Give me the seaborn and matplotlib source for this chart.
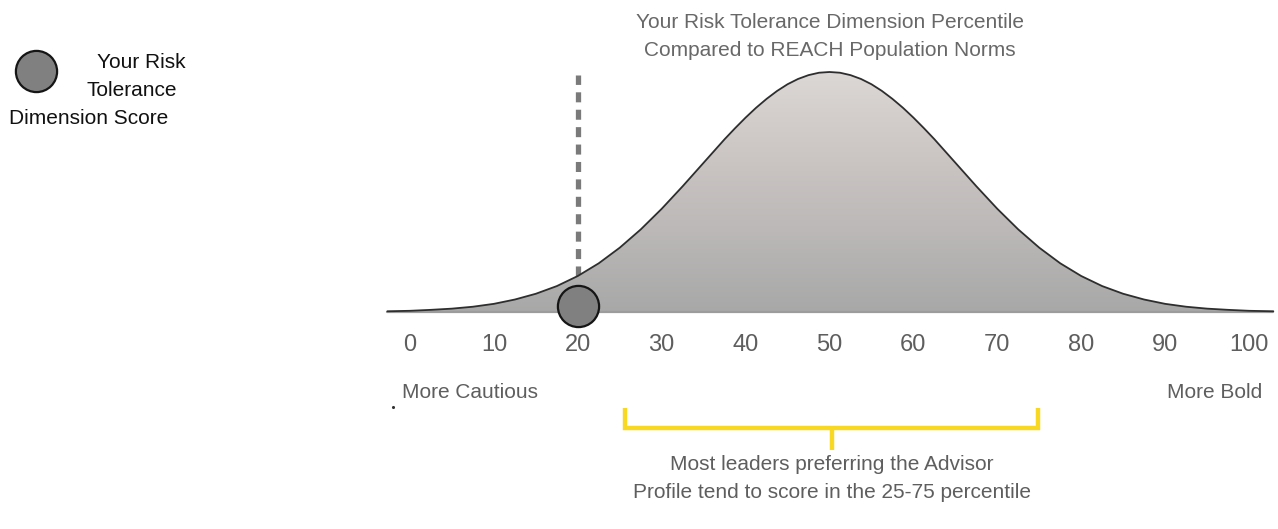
import numpy as np
import matplotlib
matplotlib.use("Agg")
import matplotlib.pyplot as plt
from matplotlib.colors import LinearSegmentedColormap
from matplotlib.patches import Polygon
import seaborn as sns

# ---------------------------------------------
# DATA
# ---------------------------------------------
# population curve: percentile -> relative height (peak = 1)
curve_x = [-2.7, 0, 2.5, 5, 7.5, 10, 12.5, 15, 17.5, 20, 22.5, 25, 27.5,
           30, 31.25, 32.5, 33.75, 35, 36.25, 37.5, 38.75, 40, 41.25, 42.5,
           43.75, 45, 46.25, 47.5, 48.75, 50, 51.25, 52.5, 53.75, 55, 56.25,
           57.5, 58.75, 60, 61.25, 62.5, 63.75, 65, 66.25, 67.5, 68.75, 70,
           72.5, 75, 77.5, 80, 82.5, 85, 87.5, 90, 92.5, 95, 97.5, 100, 102.9]
curve_h = [0.003, 0.005, 0.009, 0.014, 0.022, 0.034, 0.052, 0.076, 0.108,
           0.150, 0.203, 0.268, 0.344,
           0.430, 0.477, 0.524, 0.573, 0.622, 0.671, 0.720, 0.766, 0.810,
           0.851, 0.888, 0.921, 0.949, 0.971, 0.987, 0.997, 1.000, 0.997,
           0.987, 0.971, 0.949, 0.921, 0.888, 0.851, 0.810, 0.766, 0.720,
           0.671, 0.622, 0.573, 0.524, 0.477, 0.430,
           0.344, 0.268, 0.203, 0.150, 0.108, 0.076, 0.052, 0.034, 0.022,
           0.014, 0.009, 0.005, 0.003]

tick_values = [0, 10, 20, 30, 40, 50, 60, 70, 80, 90, 100]
your_score = 20
score_curve_h = 0.150
advisor_range = [25.6, 74.9]

title_lines = ["Your Risk Tolerance Dimension Percentile",
               "Compared to REACH Population Norms"]
left_label = "More Cautious"
right_label = "More Bold"
bracket_lines = ["Most leaders preferring the Advisor",
                 "Profile tend to score in the 25-75 percentile"]
legend_lines = ["Your Risk", "Tolerance", "Dimension Score"]

# ---------------------------------------------
# LAYOUT helpers (pixel of the 1278x529 canvas -> data)
# ---------------------------------------------
W, H = 1278, 529
X0_PX, PX_PER_UNIT = 410, 8.39     # where percentile 0 sits, px per percentile
BASE_PX, PEAK_PX = 312, 240        # baseline row, peak height in px


def dx(px):
    return (px - X0_PX) / PX_PER_UNIT


def dy(py):
    return (BASE_PX - py) / PEAK_PX


sns.set_theme(style="white")
plt.rcParams["font.family"] = ["Liberation Sans", "DejaVu Sans"]

fig = plt.figure(figsize=(W / 100, H / 100), dpi=100)
ax = fig.add_axes([0, 0, 1, 1])
ax.set_axis_off()

GREY_TXT = "#5e5e5e"
TITLE_TXT = "#686868"
YELLOW = "#f8d822"

# gradient fill under the curve
cmap = LinearSegmentedColormap.from_list(
    "bell", ["#a8a8a8", "#bbb8b7", "#ccc6c4", "#dcd8d6"])
grad = np.linspace(0, 1, 256).reshape(-1, 1)
im = ax.imshow(grad, cmap=cmap, origin="lower", aspect="auto",
               extent=[curve_x[0], curve_x[-1], 0, 1], zorder=1)
verts = np.column_stack([curve_x + curve_x[::-1],
                         curve_h + [0.0] * len(curve_x)])
clip = Polygon(verts, closed=True, facecolor="none", edgecolor="none")
ax.add_patch(clip)
im.set_clip_path(clip)

# baseline + curve outline
ax.plot([curve_x[0], curve_x[-1]], [0, 0], color="#9c9c9c", lw=1.6, zorder=2)
sns.lineplot(x=curve_x, y=curve_h, color="#2e2e2e", lw=1.3, ax=ax,
             zorder=3, sort=False)

# dashed marker line + score circle
ax.plot([your_score, your_score], [score_curve_h, dy(75)], color="#7a7a7a",
        lw=3.8, dashes=(1.9, 1.4), solid_capstyle="butt",
        dash_capstyle="butt", zorder=0.5)
sns.scatterplot(x=[your_score], y=[dy(306)], s=880, color="#808080",
                edgecolor="#151515", linewidth=1.6, ax=ax, zorder=4,
                legend=False)

# percentile tick labels
for v in tick_values:
    ax.text(v, dy(345), str(v), ha="center", va="center", fontsize=17,
            color=GREY_TXT)

ax.text(dx(402), dy(392), left_label, ha="left", va="center",
        fontsize=15, color=GREY_TXT)
ax.text(dx(1262), dy(392), right_label, ha="right", va="center",
        fontsize=15, color=GREY_TXT)
ax.scatter([dx(393)], [dy(407)], s=1.5, color="#333333", zorder=5)

# title
for i, line in enumerate(title_lines):
    ax.text(50, dy(22 + 29 * i), line, ha="center", va="center",
            fontsize=15, color=TITLE_TXT)

# yellow bracket for the advisor range
lo, hi = advisor_range
mid = (lo + hi) / 2
ax.plot([lo, lo, hi, hi], [dy(408), dy(428), dy(428), dy(408)],
        color=YELLOW, lw=3.2, solid_capstyle="butt", solid_joinstyle="miter")
ax.plot([mid, mid], [dy(428), dy(450)], color=YELLOW, lw=3.2,
        solid_capstyle="butt")
for i, line in enumerate(bracket_lines):
    ax.text(mid, dy(465 + 27 * i), line, ha="center", va="center",
            fontsize=15, color=GREY_TXT)

# legend (top left)
ax.scatter([dx(36)], [dy(71)], s=880, color="#808080",
           edgecolor="#151515", linewidth=1.6, zorder=4)
legend_x = [141, 132, 89]
for i, line in enumerate(legend_lines):
    ax.text(dx(legend_x[i]), dy(63 + 27.5 * i), line, ha="center",
            va="center", fontsize=15, color="#111111")

ax.set_xlim(dx(0), dx(W))
ax.set_ylim(dy(H), dy(0))

fig.savefig("out.png", dpi=100)
